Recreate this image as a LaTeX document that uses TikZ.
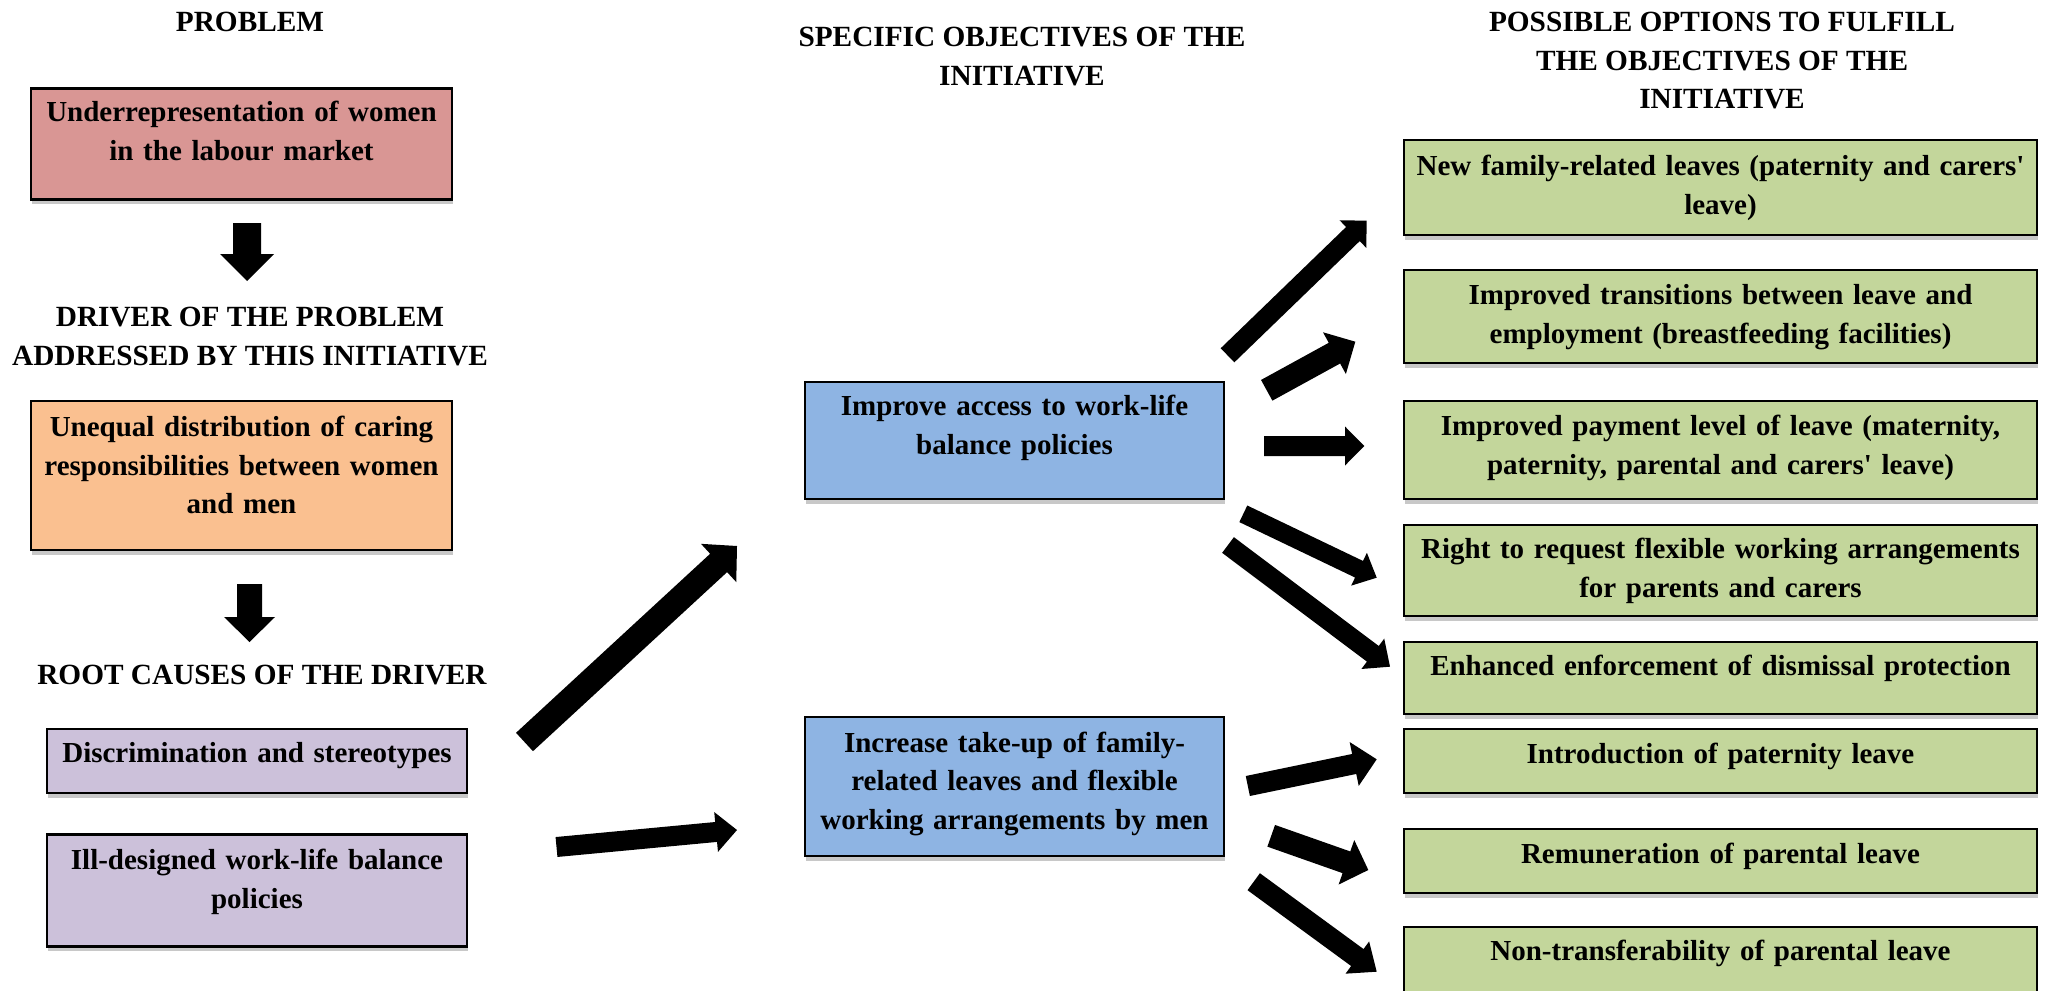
\documentclass[tikz,border=0pt]{standalone}
\usepackage{fontspec}
\setmainfont{Liberation Serif}
\usetikzlibrary{calc,shadows}
\definecolor{cprob}{HTML}{D99694}
\definecolor{cdrv}{HTML}{FAC090}
\definecolor{croot}{HTML}{CCC1DA}
\definecolor{cobj}{HTML}{8EB4E3}
\definecolor{copt}{HTML}{C3D69B}
\definecolor{cshadow}{HTML}{C8C8C8}
% text block shifted up by #1 px
\newcommand\bt[2]{\strut #2\rule[-\dimexpr 5.79pt+#1pt\relax]{0pt}{\dimexpr 5.79pt+#1pt\relax}}
% block arrow: tail, tip, shaft half width, head half width, head length
\newcommand\barrow[5]{%
  \coordinate (bab) at ($(#2)!#5!(#1)$);
  \fill[black] ($(#1)!#3!90:(#2)$) -- ($(bab)!#3!-90:(#1)$) -- ($(bab)!#4!-90:(#1)$) -- (#2)
    -- ($(bab)!#4!90:(#1)$) -- ($(bab)!#3!90:(#1)$) -- ($(#1)!#3!-90:(#2)$) -- cycle;
}
\tikzset{
  base/.style={draw=black, line width=1.1pt, align=center, inner sep=0pt,
    font=\fontsize{14.5pt}{19.3pt}\selectfont\bfseries,
    drop shadow={shadow xshift=0.4pt, shadow yshift=-2.4pt, fill=cshadow, opacity=1}},
  lbox/.style={base, minimum width=210.5pt, text width=208pt},
  rbox/.style={base, fill=croot, minimum width=210pt, text width=208pt},
  obox/.style={base, fill=cobj, minimum width=209.5pt, text width=207pt},
  gbox/.style={base, fill=copt, minimum width=316.5pt, text width=316pt},
  hd/.style={align=center, inner sep=0pt},
}
\begin{document}
\begin{tikzpicture}[x=0.5pt, y=-0.5pt, font=\fontsize{14.65pt}{19.3pt}\selectfont\bfseries]
\useasboundingbox (0,0) rectangle (2049,990);
\clip (0,0) rectangle (2049,990);

% headings
\node[hd] (hprob) at (250,23.7) {\strut PROBLEM};
\node[hd] (hdrv) at (250,338.5) {\strut DRIVER OF THE PROBLEM\\ADDRESSED BY THIS INITIATIVE\strut};
\node[hd] (hroot) at (262,676.5) {\strut ROOT CAUSES OF THE DRIVER};
\node[hd] (hobj) at (1022,58) {\strut SPECIFIC OBJECTIVES OF THE\\INITIATIVE\strut};
\node[hd] (hopt) at (1722,62.5) {\strut POSSIBLE OPTIONS TO FULFILL\\THE OBJECTIVES OF THE\\INITIATIVE\strut};

% left column
\node[lbox, fill=cprob, minimum height=55.5pt] (prob) at (241.5,144) {\bt{11}{Underrepresentation of women\\in the labour market}};
\node[lbox, fill=cdrv, minimum height=74.5pt] (drv) at (241.5,475.5) {\bt{8}{Unequal distribution of caring\\responsibilities between women\\and men}};
\node[rbox, minimum height=32pt] (disc) at (257,761) {\bt{6}{Discrimination and stereotypes}};
\node[rbox, minimum height=56pt] (ill) at (257,890.5) {\bt{9.5}{Ill-designed work-life balance\\policies}};

% objectives
\node[obox, minimum height=58.5pt] (imp) at (1014.5,440.5) {\bt{13}{Improve access to work-life\\balance policies}};
\node[obox, minimum height=69.5pt] (inc) at (1014.5,786.5) {\bt{3.5}{Increase take-up of family-\\related leaves and flexible\\working arrangements by men}};

% options
\node[gbox, minimum height=47.5pt] (o1) at (1720.5,187.5) {\bt{0}{New family-related leaves (paternity and carers\textquotesingle\\leave)}};
\node[gbox, minimum height=46.5pt] (o2) at (1720.5,316.5) {\bt{0.5}{Improved transitions between leave and\\employment (breastfeeding facilities)}};
\node[gbox, minimum height=49pt] (o3) at (1720.5,450) {\bt{2.5}{Improved payment level of leave (maternity,\\paternity, parental and carers\textquotesingle{} leave)}};
\node[gbox, minimum height=45.5pt] (o4) at (1720.5,570.5) {\bt{0}{Right to request flexible working arrangements\\for parents and carers}};
\node[gbox, minimum height=36pt] (o5) at (1720.5,678) {\bt{10}{Enhanced enforcement of dismissal protection}};
\node[gbox, minimum height=32pt] (o6) at (1720.5,761) {\bt{5}{Introduction of paternity leave}};
\node[gbox, minimum height=32pt] (o7) at (1720.5,861) {\bt{5.5}{Remuneration of parental leave}};
\node[gbox, minimum height=40pt] (o8) at (1720.5,967) {\bt{14}{Non-transferability of parental leave}};

% arrow end points
\coordinate (a1s) at (247,223);      \coordinate (a1e) at (247,281);
\coordinate (a2s) at (249.5,584);    \coordinate (a2e) at (249.5,642);
\coordinate (a3s) at (524.5,742);    \coordinate (a3e) at (737,546);
\coordinate (a4s) at (556.5,847);    \coordinate (a4e) at (737,830);
\coordinate (g1s) at (1227.5,355.3); \coordinate (g1e) at (1366.7,220.7);
\coordinate (g2s) at (1266.7,390.3); \coordinate (g2e) at (1355.3,341.7);
\coordinate (g3s) at (1264,446);     \coordinate (g3e) at (1364.3,446);
\coordinate (g4s) at (1243.3,513.8); \coordinate (g4e) at (1376.7,577.7);
\coordinate (g5s) at (1228,545);     \coordinate (g5e) at (1390,666.7);
\coordinate (h1s) at (1247.8,786);   \coordinate (h1e) at (1376.7,759.3);
\coordinate (h2s) at (1271.2,835.8); \coordinate (h2e) at (1368.3,870);
\coordinate (h3s) at (1253.7,881.7); \coordinate (h3e) at (1376.7,971.7);

% arrows
\barrow{a1s}{a1e}{7pt}{13.5pt}{13.5pt}
\barrow{a2s}{a2e}{6.25pt}{12.75pt}{12.5pt}
\barrow{a3s}{a3e}{6.25pt}{13pt}{12.5pt}
\barrow{a4s}{a4e}{5pt}{10pt}{10.5pt}
\barrow{g1s}{g1e}{4.9pt}{9.6pt}{9.6pt}
\barrow{g2s}{g2e}{5.9pt}{11.9pt}{11.9pt}
\barrow{g3s}{g3e}{5pt}{9.75pt}{9.65pt}
\barrow{g4s}{g4e}{4.6pt}{9.1pt}{9.8pt}
\barrow{g5s}{g5e}{4.9pt}{9.5pt}{10.75pt}
\barrow{h1s}{h1e}{5.1pt}{11.2pt}{11.5pt}
\barrow{h2s}{h2e}{5.75pt}{11.8pt}{11.6pt}
\barrow{h3s}{h3e}{5.25pt}{10pt}{12pt}
\end{tikzpicture}
\end{document}
